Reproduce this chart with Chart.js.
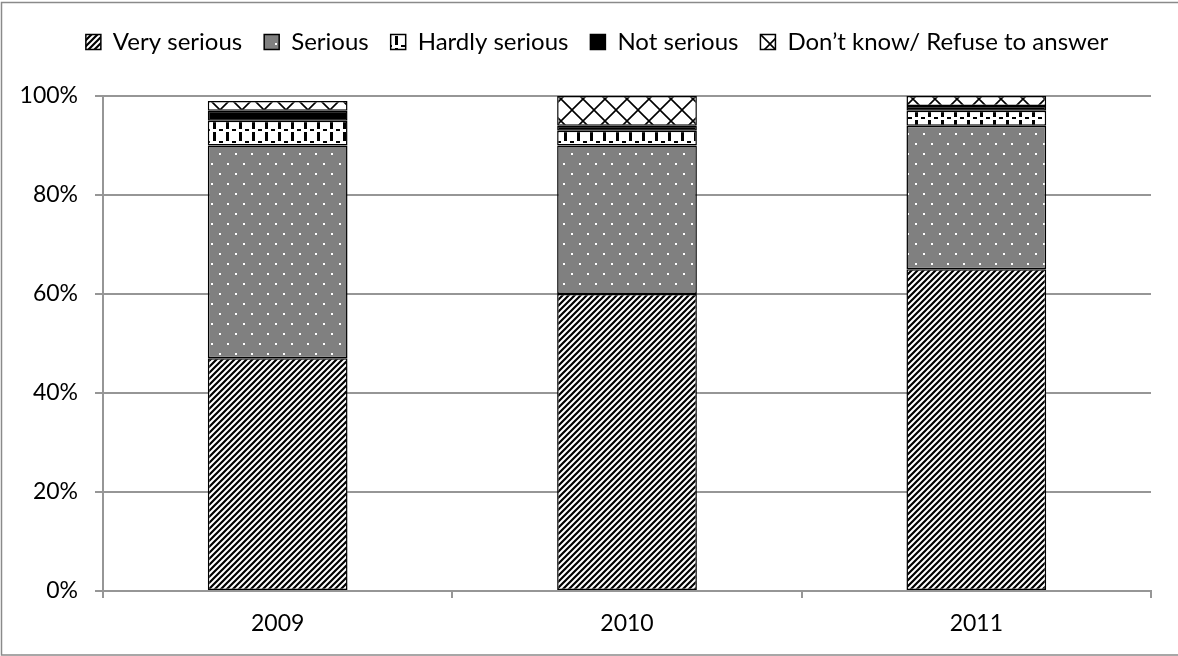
<!DOCTYPE html>
<html>
<head>
<meta charset="utf-8">
<script src="https://cdn.jsdelivr.net/npm/chart.js@4/dist/chart.umd.min.js"></script>
<style>
  html, body { margin: 0; padding: 0; background: #fff; }
  canvas { display: block; }
</style>
</head>
<body>
<canvas id="chart" width="1178" height="656"></canvas>
<script>
// Survey: how serious is the problem (share of respondents, %)
const years = ['2009', '2010', '2011'];
const seriesNames = ['Very serious', 'Serious', 'Hardly serious', 'Not serious', 'Don\u2019t know/ Refuse to answer'];
const verySerious = [47, 60, 65];
const serious = [43, 30, 29];
const hardlySerious = [5, 3, 3];
const notSerious = [2, 1, 1];
const dontKnow = [2, 6, 2];
const yTicks = [0, 20, 40, 60, 80, 100];

const FONT = 'Lato';
const GRID = '#969696';

// Build a repeating fill from a small tile
function makePattern(w, h, draw) {
  const c = document.createElement('canvas');
  c.width = w; c.height = h;
  const g = c.getContext('2d');
  draw(g, w, h);
  return g.createPattern(c, 'repeat');
}

const ctx = document.getElementById('chart').getContext('2d');

const stripes = makePattern(6, 6, (g, w, h) => {
  g.fillStyle = '#fff'; g.fillRect(0, 0, w, h);
  g.strokeStyle = '#000'; g.lineWidth = 2.2;
  g.beginPath();
  g.moveTo(-3, 3); g.lineTo(3, -3);
  g.moveTo(0, 6); g.lineTo(6, 0);
  g.moveTo(3, 9); g.lineTo(9, 3);
  g.stroke();
});

const dots = makePattern(16, 20, (g, w, h) => {
  g.fillStyle = '#808080'; g.fillRect(0, 0, w, h);
  g.fillStyle = '#fff';
  g.fillRect(3, 3, 2, 2);
  g.fillRect(11, 13, 2, 2);
});

const bricks = makePattern(13, 12, (g, w, h) => {
  g.fillStyle = '#fff'; g.fillRect(0, 0, w, h);
  g.fillStyle = '#000';
  g.fillRect(5, 0, 3, 9);
  g.fillRect(0, 9, 2, 2);
  g.fillRect(11, 9, 2, 2);
});

const cross = makePattern(22, 22, (g, w, h) => {
  g.fillStyle = '#fff'; g.fillRect(0, 0, w, h);
  g.strokeStyle = '#000'; g.lineWidth = 1.6;
  g.beginPath();
  g.moveTo(0, 0); g.lineTo(22, 22);
  g.moveTo(22, 0); g.lineTo(0, 22);
  g.stroke();
});

const seriesData = [verySerious, serious, hardlySerious, notSerious, dontKnow];
const fills = [stripes, dots, bricks, '#000', cross];

const datasets = seriesNames.map((name, i) => ({
  label: name,
  data: seriesData[i],
  backgroundColor: fills[i],
  borderColor: '#000',
  borderWidth: 1.5,
  borderSkipped: false,
  categoryPercentage: 1,
  barPercentage: 0.4
}));

const PAD_TOP = 8;
const PLOT_TOP = 96;

// Fixed legend band height so the plot area starts where intended
const legendBand = {
  id: 'legendBand',
  beforeUpdate(chart) {
    const lg = chart.legend;
    if (lg && !lg._bandPatched) {
      const orig = lg.fit;
      lg.fit = function () { orig.call(this); this.height = PLOT_TOP - PAD_TOP; };
      lg._bandPatched = true;
    }
  }
};

// White page and thin grey frame round the whole chart
const frame = {
  id: 'frame',
  beforeDraw(chart) {
    const c = chart.ctx;
    c.save();
    c.fillStyle = '#fff';
    c.fillRect(0, 0, chart.width, chart.height);
    c.restore();
  },
  afterDraw(chart) {
    const c = chart.ctx;
    c.save();
    c.strokeStyle = '#8a8a8a';
    c.lineWidth = 1.5;
    c.strokeRect(1.5, 2.5, 1178, 652.5);
    c.restore();
  }
};

new Chart(ctx, {
  type: 'bar',
  data: { labels: years, datasets },
  plugins: [legendBand, frame],
  options: {
    responsive: false,
    animation: false,
    devicePixelRatio: 1,
    layout: { padding: { top: PAD_TOP, left: 16, right: 0, bottom: 0 } },
    plugins: {
      legend: {
        position: 'top',
        labels: {
          color: '#000',
          font: { family: FONT, size: 24 },
          boxWidth: 15,
          boxHeight: 15,
          padding: 22
        }
      },
      tooltip: { enabled: false }
    },
    scales: {
      x: {
        stacked: true,
        grid: { offset: true, drawOnChartArea: false, drawTicks: true, tickLength: 7, color: GRID, lineWidth: 2 },
        border: { display: true, color: GRID, width: 2 },
        ticks: { color: '#000', font: { family: FONT, size: 23 }, padding: 12 },
        afterFit(scale) { scale.height = 65; }
      },
      y: {
        stacked: true,
        min: 0,
        max: 100,
        afterBuildTicks(scale) { scale.ticks = yTicks.map(v => ({ value: v })); },
        grid: { color: GRID, lineWidth: 2, drawTicks: true, tickLength: 8 },
        border: { display: true, color: GRID, width: 2 },
        ticks: {
          color: '#000',
          font: { family: FONT, size: 23 },
          padding: 17,
          callback: v => v + '%'
        },
        afterFit(scale) { scale.width = 87; }
      },
      // empty right-hand margin beside the plot
      yGap: {
        position: 'right',
        display: true,
        grid: { display: false },
        border: { display: false },
        ticks: { display: false },
        afterFit(scale) { scale.width = 27; }
      }
    }
  }
});
</script>
</body>
</html>
